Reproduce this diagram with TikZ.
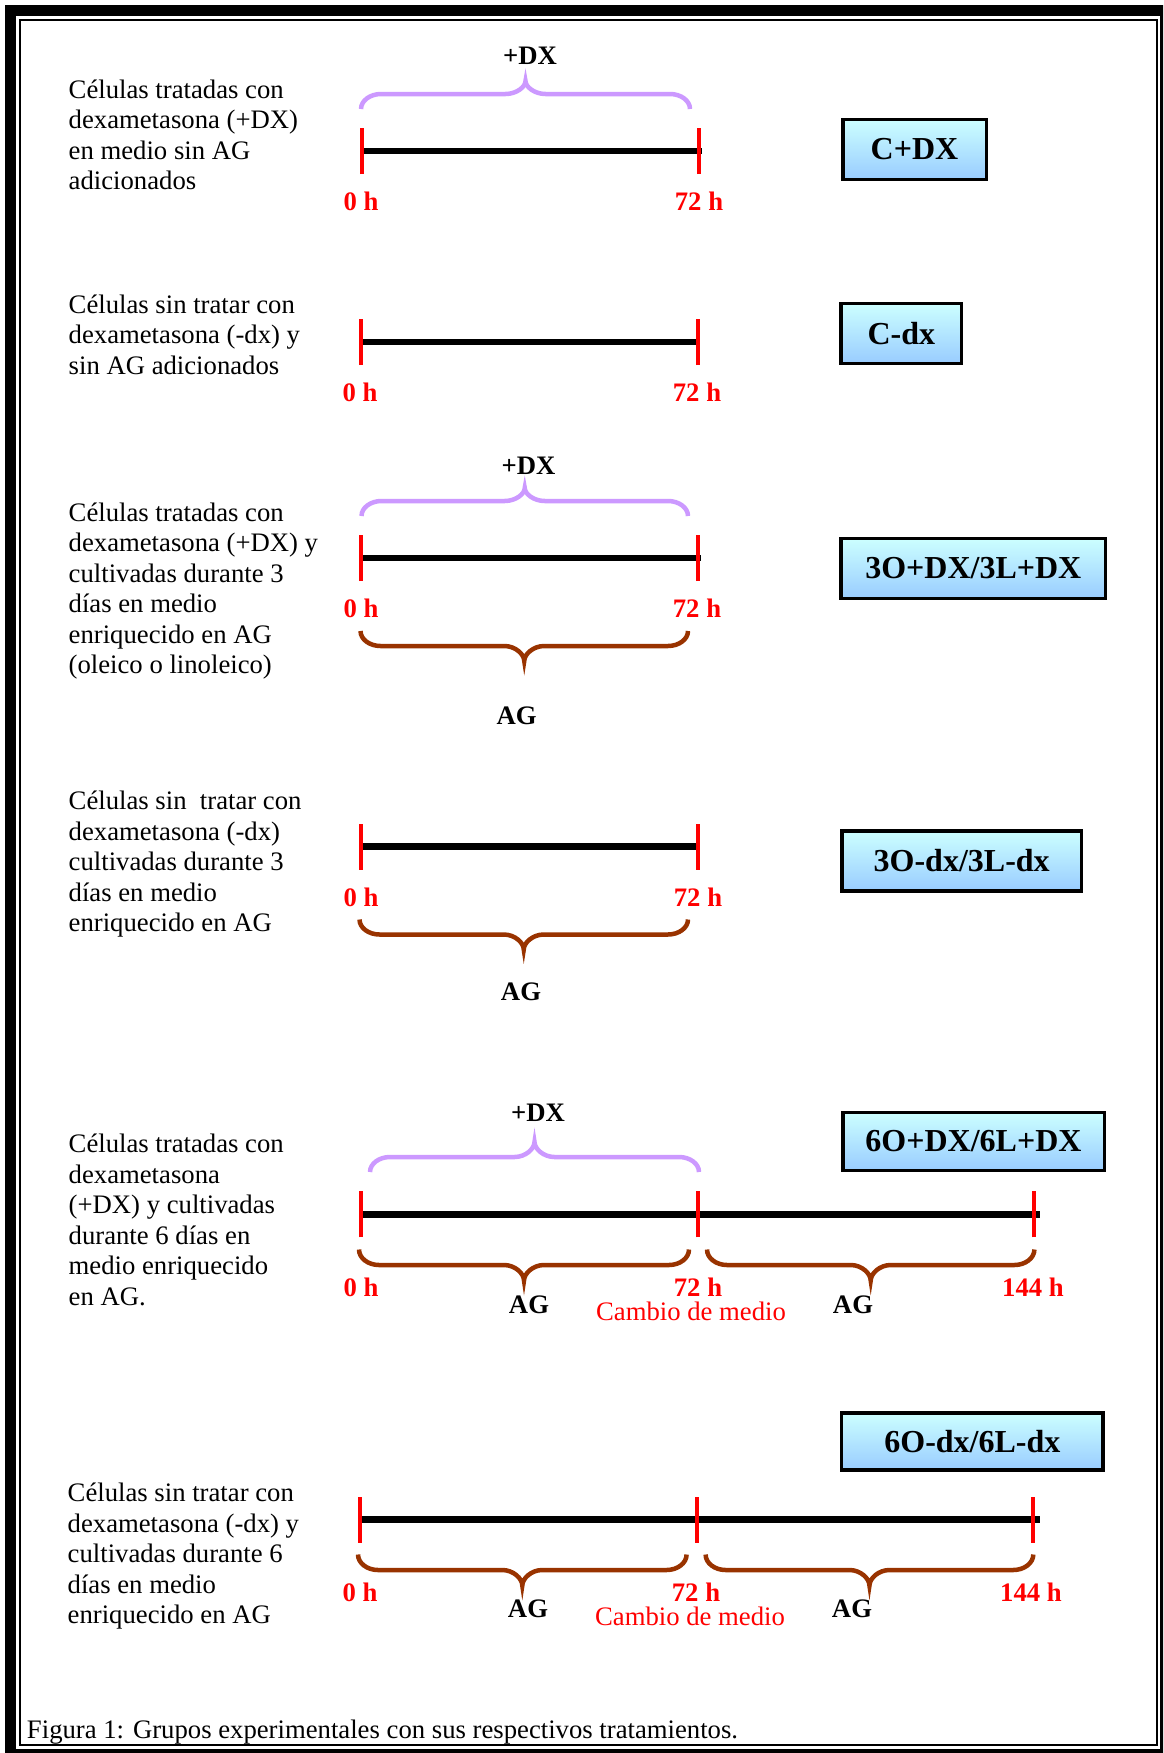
\documentclass[tikz,border=0pt]{standalone}
\usepackage{fontspec}
\setmainfont{Liberation Serif}
\usetikzlibrary{shadings}
\definecolor{dxpurple}{HTML}{CC99FF}
\definecolor{agbrown}{HTML}{993300}
\definecolor{boxtop}{HTML}{CCFFFF}
\definecolor{boxbot}{HTML}{99CCFF}
\definecolor{hred}{HTML}{FF0000}
\newcommand{\mybrace}[6]{%
  \pgfmathsetmacro{\bxm}{(#2+#3)/2}%
  \pgfmathsetmacro{\bya}{#4+0.55*(#5-#4)}%
  \pgfmathsetmacro{\byb}{#5+0.55*(#6-#5)}%
  \draw[#1] (#2,#4) .. controls (#2,\bya) and ({#2+9},#5) .. ({#2+20},#5)
    -- ({\bxm-20},#5) .. controls ({\bxm-9},#5) and (\bxm,\byb) .. (\bxm,#6)
    .. controls (\bxm,\byb) and ({\bxm+9},#5) .. ({\bxm+20},#5)
    -- ({#3-20},#5) .. controls ({#3-9},#5) and (#3,\bya) .. (#3,#4);
}
\begin{document}
\begin{tikzpicture}[x=1pt,y=-1pt,
  desc/.style={anchor=base west, align=left, inner sep=0pt, font=\fontsize{26.7}{30.5}\selectfont},
  hlbl/.style={text=hred, inner sep=0pt, font=\fontsize{26.7}{30}\selectfont\bfseries},
  blbl/.style={inner sep=0pt, font=\fontsize{26.7}{30}\selectfont\bfseries},
  cambio/.style={text=hred, inner sep=0pt, font=\fontsize{26.7}{30}\selectfont},
  grp/.style={draw=black, line width=3.5pt, top color=boxtop, bottom color=boxbot,
     inner sep=0pt, minimum height=59.8pt, font=\fontsize{32}{36}\selectfont\bfseries},
  tline/.style={line width=6.7pt, black},
  redtick/.style={line width=3.3pt, hred},
  dxbrace/.style={line width=4.5pt, dxpurple},
  agbrace/.style={line width=4.5pt, agbrown}]
\useasboundingbox (0,0) rectangle (1163,1753);
\fill[white] (0,0) rectangle (1163,1753);
\clip (0,0) rectangle (1163,1753);
% frame
\draw[line width=1.6pt] (5.8,5.8) rectangle (1170.2,1758.9);
\draw[line width=8.7pt] (11.65,11.65) rectangle (1164.35,1753);
\draw[line width=1.8pt] (20,20) rectangle (1157,1745.3);

% ---------- Row 1 ----------
\node[desc] (t1) at (68.5,189.8) {Células tratadas con\\dexametasona (+DX)\\en medio sin AG\\adicionados};
\coordinate (a0) at (362,151);
\coordinate (a72) at (699,151);
\draw[tline, shorten >=-3pt] (a0) -- (a72);
\foreach \c in {a0,a72} \draw[redtick] ([yshift=-23pt]\c) -- ([yshift=23pt]\c);
\mybrace{dxbrace}{361}{690}{109}{94}{81}
\node[blbl] (dx1) at (530,56) {+DX};
\node[hlbl] (a0l) at (361,201.3) {0 h};
\node[hlbl] (a72l) at (699,201.3) {72 h};
\node[grp, minimum width=143.5pt] (g1) at (914.5,149.4) {C+DX};

% ---------- Row 2 ----------
\node[desc] (t2) at (68.5,374) {Células sin tratar con\\dexametasona (-dx) y\\sin AG adicionados};
\coordinate (b0) at (361,342);
\coordinate (b72) at (698,342);
\draw[tline, shorten >=-2pt] (b0) -- (b72);
\foreach \c in {b0,b72} \draw[redtick] ([yshift=-23pt]\c) -- ([yshift=23pt]\c);
\node[hlbl] (b0l) at (360,392.5) {0 h};
\node[hlbl] (b72l) at (697,392.5) {72 h};
\node[grp, minimum width=120.5pt] (g2) at (901.3,333.4) {C-dx};

% ---------- Row 3 ----------
\node[desc] (t3) at (68.5,673.5) {Células tratadas con\\dexametasona (+DX) y\\cultivadas durante 3\\días en medio\\enriquecido en AG\\(oleico o linoleico)};
\coordinate (c0) at (361,558);
\coordinate (c72) at (698,558);
\draw[tline, shorten >=-3pt] (c0) -- (c72);
\foreach \c in {c0,c72} \draw[redtick] ([yshift=-23pt]\c) -- ([yshift=23pt]\c);
\mybrace{dxbrace}{361.5}{688}{516}{501}{488}
\mybrace{agbrace}{360.5}{688}{631}{646}{661}
\node[blbl] (dx3) at (528.5,465.5) {+DX};
\node[hlbl] (c0l) at (361,608.4) {0 h};
\node[hlbl] (c72l) at (697,608.4) {72 h};
\node[blbl] (ag3) at (516.6,716) {AG};
\node[grp, minimum width=264.5pt] (g3) at (973.3,568.4) {3O+DX/3L+DX};

% ---------- Row 4 ----------
\node[desc] (t4) at (68.5,931.5) {Células sin~ tratar con\\dexametasona (-dx)\\cultivadas durante 3\\días en medio\\enriquecido en AG};
\coordinate (d0) at (361,846.5);
\coordinate (d72) at (698,846.5);
\draw[tline, shorten >=-2pt] (d0) -- (d72);
\foreach \c in {d0,d72} \draw[redtick] ([yshift=-23pt]\c) -- ([yshift=23pt]\c);
\mybrace{agbrace}{359.5}{688}{919.5}{934.5}{949.5}
\node[hlbl] (d0l) at (361,897) {0 h};
\node[hlbl] (d72l) at (698,897) {72 h};
\node[blbl] (ag4) at (521,992) {AG};
\node[grp, minimum width=239.8pt] (g4) at (961.7,861) {3O-dx/3L-dx};

% ---------- Row 5 ----------
\node[desc] (t5) at (68.5,1305.3) {Células tratadas con\\dexametasona\\(+DX) y cultivadas\\durante 6 días en\\medio enriquecido\\en AG.};
\coordinate (e0) at (361,1214.4);
\coordinate (e72) at (698,1214.4);
\coordinate (e144) at (1034,1214.4);
\draw[tline, shorten >=-6pt] (e0) -- (e144);
\foreach \c in {e0,e72,e144} \draw[redtick] ([yshift=-23pt]\c) -- ([yshift=23pt]\c);
\mybrace{dxbrace}{370}{699}{1172}{1157}{1142}
\mybrace{agbrace}{359}{689}{1249.5}{1265}{1280.5}
\mybrace{agbrace}{707}{1034.4}{1249.5}{1265}{1280.5}
\node[blbl] (dx5) at (538,1112.7) {+DX};
\node[hlbl] (e0l) at (361,1287.2) {0 h};
\node[hlbl] (e72l) at (698,1287.2) {72 h};
\node[hlbl] (e144l) at (1033,1287.2) {144 h};
\node[blbl] (ag5a) at (529,1305) {AG};
\node[blbl] (ag5b) at (853,1305) {AG};
\node[cambio] (cm5) at (691,1311.8) {Cambio de medio};
\node[grp, minimum width=261.5pt, minimum height=58pt] (g5) at (973.5,1141.3) {6O+DX/6L+DX};

% ---------- Row 6 ----------
\node[desc] (t6) at (67.5,1623.8) {Células sin tratar con\\dexametasona (-dx) y\\cultivadas durante 6\\días en medio\\enriquecido en AG};
\coordinate (f0) at (360,1519.6);
\coordinate (f72) at (697,1519.6);
\coordinate (f144) at (1033,1519.6);
\draw[tline, shorten >=-7pt] (f0) -- (f144);
\foreach \c in {f0,f72,f144} \draw[redtick] ([yshift=-23pt]\c) -- ([yshift=23pt]\c);
\mybrace{agbrace}{358}{686.6}{1554.5}{1570}{1585.5}
\mybrace{agbrace}{705.6}{1033.3}{1554.5}{1570}{1585.5}
\node[hlbl] (f0l) at (360,1592.5) {0 h};
\node[hlbl] (f72l) at (696,1592.5) {72 h};
\node[hlbl] (f144l) at (1031,1592.5) {144 h};
\node[blbl] (ag6a) at (528,1609) {AG};
\node[blbl] (ag6b) at (852,1609) {AG};
\node[cambio] (cm6) at (690,1616) {Cambio de medio};
\node[grp, minimum width=261.5pt, minimum height=57pt] (g6) at (972.4,1441.5) {6O-dx/6L-dx};

% caption
\node[desc] (cap) at (26.8,1738) {Figura 1: Grupos experimentales con sus respectivos tratamientos.};
\end{tikzpicture}
\end{document}
